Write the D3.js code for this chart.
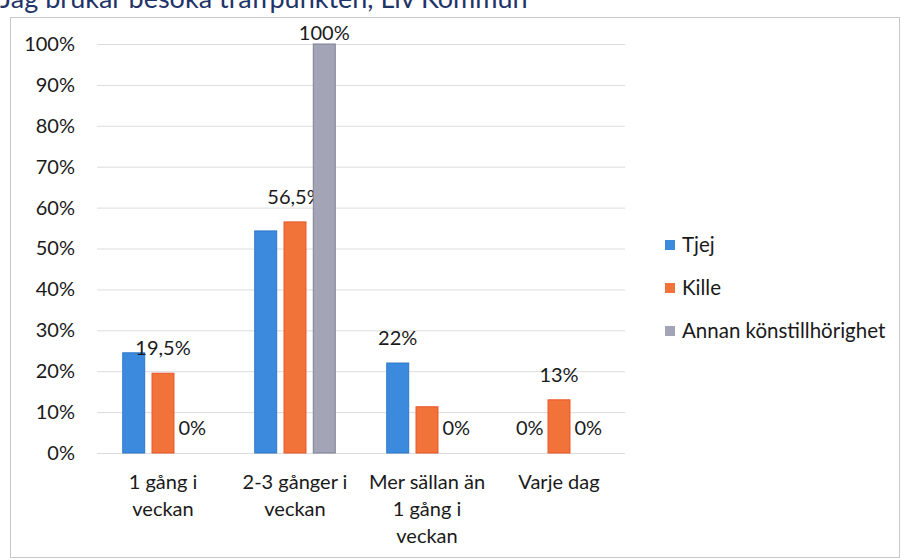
<!DOCTYPE html>
<html>
<head>
<meta charset="utf-8">
<script src="https://cdn.jsdelivr.net/npm/d3@7"></script>
<style>
  body { margin: 0; background: #fff; }
  svg text { font-family: Lato, "Open Sans", sans-serif; fill: #1a1a1a; }
</style>
</head>
<body>
<div id="chart"></div>
<script>
// chart data
const categories = [
  ['1 gång i', 'veckan'],
  ['2-3 gånger i', 'veckan'],
  ['Mer sällan än', '1 gång i', 'veckan'],
  ['Varje dag']
];
const seriesNames = ['Tjej', 'Kille', 'Annan könstillhörighet'];
const tjej = [0.245, 0.543, 0.22, 0];
const kille = [0.195, 0.565, 0.113, 0.13];
const annan = [0, 1.0, 0, 0];
// labels shown on the chart (null = no label printed)
const tjejLabels = [null, null, '22%', '0%'];
const killeLabels = ['19,5%', '56,5%', null, '13%'];
const annanLabels = ['0%', '100%', '0%', '0%'];
const yTicks = [0, 0.1, 0.2, 0.3, 0.4, 0.5, 0.6, 0.7, 0.8, 0.9, 1.0];
const title = 'Jag brukar besöka träffpunkten, Liv Kommun';

const colors = ['#3b8ade', '#f2733a', '#a3a5b7'];
const strokes = ['#2f78c8', '#e8542a', '#7e8194'];

const width = 905, height = 560;
const margin = { left: 97, right: 280, top: 44, bottom: 107 };

const svg = d3.select('#chart').append('svg')
  .attr('width', width)
  .attr('height', height);

// title, cut by the top edge like in the scan
svg.append('text')
  .attr('x', 0)
  .attr('y', 8)
  .style('font-size', '27px')
  .style('fill', '#1f3468')
  .text(title);

// outer frame
svg.append('rect')
  .attr('x', 10.5)
  .attr('y', 17.5)
  .attr('width', 889)
  .attr('height', 540)
  .attr('fill', 'none')
  .attr('stroke', '#c8c8c8');

const y = d3.scaleLinear()
  .domain([0, 1])
  .range([height - margin.bottom, margin.top]);

const x0 = d3.scaleBand()
  .domain(d3.range(categories.length))
  .range([margin.left, width - margin.right])
  .paddingInner(0.39)
  .paddingOuter(0.195);

const x1 = d3.scaleBand()
  .domain(d3.range(seriesNames.length))
  .range([0, x0.bandwidth()])
  .paddingInner(0.25);

// gridlines and tick labels
const yAxis = d3.axisLeft(y)
  .tickValues(yTicks)
  .tickFormat(d3.format('.0%'))
  .tickSize(-(width - margin.right - margin.left))
  .tickPadding(22);

const gy = svg.append('g')
  .attr('transform', `translate(${margin.left},0)`)
  .call(yAxis);
gy.select('.domain').remove();
gy.selectAll('.tick line').attr('stroke', '#dcdcdc');
gy.selectAll('.tick text').style('font-size', '20px').attr('fill', '#1a1a1a');

const series = [tjej, kille, annan];
const labels = [tjejLabels, killeLabels, annanLabels];

series.forEach((vals, s) => {
  const g = svg.append('g');
  g.selectAll('rect')
    .data(vals)
    .enter()
    .append('rect')
    .attr('x', (d, i) => x0(i) + x1(s))
    .attr('y', d => y(d))
    .attr('width', x1.bandwidth())
    .attr('height', d => y(0) - y(d))
    .attr('fill', colors[s])
    .attr('stroke', strokes[s])
    .attr('stroke-width', d => d > 0 ? 1 : 0);

  g.selectAll('text')
    .data(vals.map((d, i) => ({ v: d, i: i, t: labels[s][i] })).filter(d => d.t !== null))
    .enter()
    .append('text')
    .attr('text-anchor', 'middle')
    .attr('x', d => x0(d.i) + x1(s) + x1.bandwidth() / 2)
    .attr('y', d => Math.max(y(d.v) - 18, y(1) - 4))
    .style('font-size', '20px')
    .text(d => d.t);
});

// category labels
const xl = svg.append('g');
categories.forEach((lines, i) => {
  const cx = x0(i) + x0.bandwidth() / 2;
  const t = xl.append('text')
    .attr('text-anchor', 'middle')
    .attr('x', cx)
    .attr('y', y(0) + 36)
    .style('font-size', '20px');
  lines.forEach((ln, k) => {
    t.append('tspan')
      .attr('x', cx)
      .attr('dy', k === 0 ? 0 : 27)
      .text(ln);
  });
});

// legend
const legend = svg.append('g')
  .attr('transform', 'translate(665,245)');
seriesNames.forEach((name, i) => {
  const row = legend.append('g')
    .attr('transform', `translate(0,${i * 43})`);
  row.append('rect')
    .attr('x', 0)
    .attr('y', -5)
    .attr('width', 10)
    .attr('height', 10)
    .attr('fill', colors[i]);
  row.append('text')
    .attr('x', 17)
    .attr('y', 7)
    .style('font-size', '20.5px')
    .text(name);
});
</script>
</body>
</html>
